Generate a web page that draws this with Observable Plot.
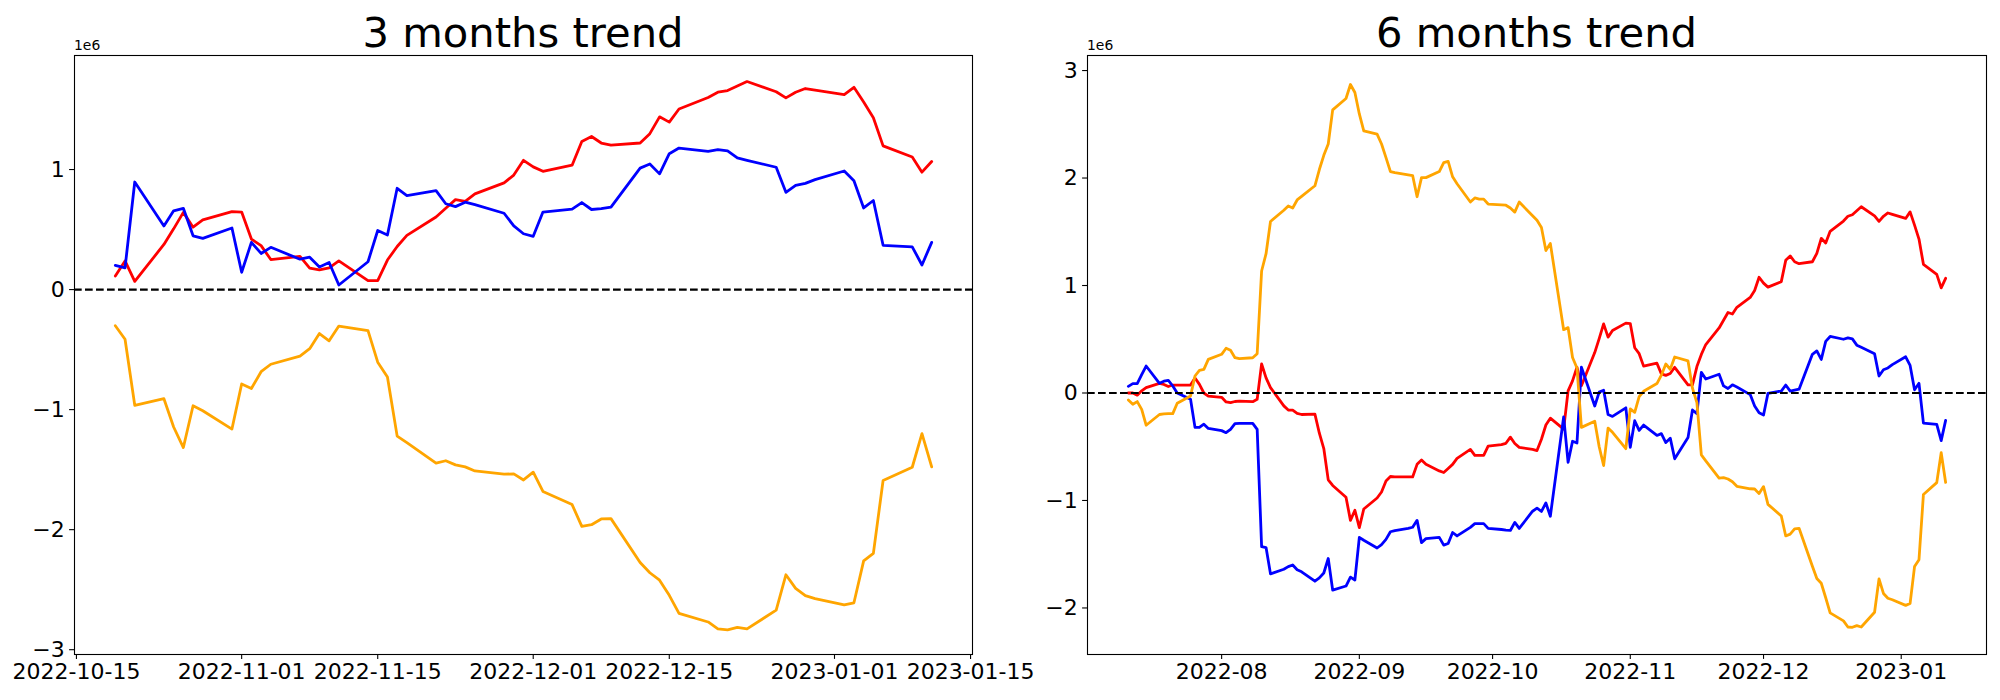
<!DOCTYPE html>
<html>
<head>
<meta charset="utf-8">
<script src="https://cdn.jsdelivr.net/npm/d3@7"></script>
<script src="https://cdn.jsdelivr.net/npm/@observablehq/plot@0.6"></script>
<style>
  body { margin: 0; background: #fff; }
  #fig { position: relative; width: 2000px; height: 700px; font-family: "DejaVu Sans", sans-serif; color: #000; background: #fff; }
  .panel { position: absolute; top: 0; }
  .title { position: absolute; font-size: 41.7px; line-height: 1; white-space: nowrap; transform: translateX(-50%); }
  .offset { position: absolute; font-size: 13.9px; line-height: 1; white-space: nowrap; }
</style>
</head>
<body>
<div id="fig"></div>
<script>
// ---------- 3 months panel (values in units of 1e6) ----------
const threeDates = [
  "2022-10-19","2022-10-20","2022-10-21","2022-10-24","2022-10-25","2022-10-26","2022-10-27","2022-10-28","2022-10-31",
  "2022-11-01","2022-11-02","2022-11-03","2022-11-04","2022-11-07","2022-11-08","2022-11-09","2022-11-10","2022-11-11",
  "2022-11-14","2022-11-15","2022-11-16","2022-11-17","2022-11-18","2022-11-21","2022-11-22","2022-11-23","2022-11-24",
  "2022-11-25","2022-11-28","2022-11-29","2022-11-30",
  "2022-12-01","2022-12-02","2022-12-05","2022-12-06","2022-12-07","2022-12-08","2022-12-09","2022-12-12","2022-12-13",
  "2022-12-14","2022-12-15","2022-12-16","2022-12-19","2022-12-20","2022-12-21","2022-12-22","2022-12-23","2022-12-26",
  "2022-12-27","2022-12-28","2022-12-29","2022-12-30",
  "2023-01-02","2023-01-03","2023-01-04","2023-01-05","2023-01-06","2023-01-09","2023-01-10","2023-01-11"
];
const threeRed = [
  0.113, 0.239, 0.068, 0.376, 0.506, 0.643, 0.520, 0.581, 0.650,
  0.646, 0.421, 0.366, 0.250, 0.277, 0.178, 0.164, 0.181, 0.239, 0.075, 0.075, 0.246, 0.359, 0.451, 0.605, 0.677, 0.749, 0.735, 0.797, 0.889, 0.954, 1.077,
  1.022, 0.985, 1.036, 1.234, 1.275, 1.221, 1.203, 1.221, 1.299, 1.439, 1.395, 1.504, 1.600, 1.644, 1.658, 1.696, 1.733, 1.648, 1.597, 1.644, 1.675, 1.662,
  1.624, 1.685, 1.562, 1.432, 1.197, 1.104, 0.978, 1.067
];
const threeBlue = [
  0.202, 0.181, 0.896, 0.530, 0.656, 0.677, 0.448, 0.427, 0.513,
  0.144, 0.393, 0.301, 0.352, 0.253, 0.270, 0.188, 0.226, 0.038, 0.232, 0.492, 0.455, 0.844, 0.783, 0.824, 0.715, 0.691, 0.728, 0.708, 0.636, 0.530, 0.465,
  0.444, 0.646, 0.670, 0.725, 0.667, 0.674, 0.687, 1.012, 1.046, 0.964, 1.132, 1.179, 1.152, 1.166, 1.156, 1.097, 1.077, 1.019, 0.810, 0.868, 0.885, 0.916,
  0.988, 0.906, 0.680, 0.742, 0.369, 0.356, 0.205, 0.393
];
const threeOrange = [
  -0.301, -0.414, -0.964, -0.909, -1.145, -1.316, -0.968, -1.009, -1.162,
  -0.786, -0.824, -0.684, -0.622, -0.554, -0.492, -0.366, -0.427, -0.304, -0.342, -0.605, -0.728, -1.221, -1.275, -1.446, -1.426, -1.460, -1.477, -1.511, -1.538, -1.535, -1.586,
  -1.521, -1.682, -1.791, -1.973, -1.959, -1.911, -1.908, -2.274, -2.359, -2.421, -2.547, -2.697, -2.769, -2.827, -2.834, -2.814, -2.827, -2.670, -2.376, -2.489, -2.550, -2.574,
  -2.626, -2.609, -2.260, -2.198, -1.590, -1.480, -1.200, -1.477
];
const threeXTicks = ["2022-10-15","2022-11-01","2022-11-15","2022-12-01","2022-12-15","2023-01-01","2023-01-15"];
const threeYTicks = [-3, -2, -1, 0, 1];

// ---------- 6 months panel (values in units of 1e6) ----------
const sixDates = [
  "2022-07-11","2022-07-12","2022-07-13","2022-07-14","2022-07-15","2022-07-18","2022-07-19","2022-07-20","2022-07-21","2022-07-22",
  "2022-07-25","2022-07-26","2022-07-27","2022-07-28","2022-07-29",
  "2022-08-01","2022-08-02","2022-08-03","2022-08-04","2022-08-05","2022-08-08","2022-08-09","2022-08-10","2022-08-11","2022-08-12",
  "2022-08-15","2022-08-16","2022-08-17","2022-08-18","2022-08-19","2022-08-22","2022-08-23","2022-08-24","2022-08-25","2022-08-26",
  "2022-08-29","2022-08-30","2022-08-31",
  "2022-09-01","2022-09-02","2022-09-05","2022-09-06","2022-09-07","2022-09-08","2022-09-09","2022-09-12","2022-09-13","2022-09-14",
  "2022-09-15","2022-09-16","2022-09-19","2022-09-20","2022-09-21","2022-09-22","2022-09-23","2022-09-26","2022-09-27","2022-09-28",
  "2022-09-29","2022-09-30",
  "2022-10-03","2022-10-04","2022-10-05","2022-10-06","2022-10-07","2022-10-10","2022-10-11","2022-10-12","2022-10-13","2022-10-14",
  "2022-10-17","2022-10-18","2022-10-19","2022-10-20","2022-10-21","2022-10-24","2022-10-25","2022-10-26","2022-10-27","2022-10-28",
  "2022-10-31",
  "2022-11-01","2022-11-02","2022-11-03","2022-11-04","2022-11-07","2022-11-08","2022-11-09","2022-11-10","2022-11-11","2022-11-14",
  "2022-11-15","2022-11-16","2022-11-17","2022-11-18","2022-11-21","2022-11-22","2022-11-23","2022-11-24","2022-11-25","2022-11-28",
  "2022-11-29","2022-11-30",
  "2022-12-01","2022-12-02","2022-12-05","2022-12-06","2022-12-07","2022-12-08","2022-12-09","2022-12-12","2022-12-13","2022-12-14",
  "2022-12-15","2022-12-16","2022-12-19","2022-12-20","2022-12-21","2022-12-22","2022-12-23","2022-12-26","2022-12-27","2022-12-28",
  "2022-12-29","2022-12-30",
  "2023-01-02","2023-01-03","2023-01-04","2023-01-05","2023-01-06","2023-01-09","2023-01-10","2023-01-11"
];
const sixRed = [
  0.000, 0.000, -0.020, 0.020, 0.050, 0.090, 0.080, 0.060, 0.074, 0.074, 0.074, 0.140, 0.080, 0.000, -0.030,
  -0.040, -0.083, -0.090, -0.079, -0.075, -0.081, -0.059, 0.270, 0.140, 0.050, -0.120, -0.158, -0.160, -0.190, -0.200, -0.196, -0.374, -0.517, -0.808, -0.860, -0.970, -1.185, -1.091,
  -1.253, -1.079, -0.977, -0.921, -0.819, -0.777, -0.780, -0.780, -0.781, -0.664, -0.623, -0.664, -0.725, -0.740, -0.702, -0.664, -0.608, -0.525, -0.581, -0.580, -0.581, -0.494,
  -0.480, -0.468, -0.411, -0.470, -0.506, -0.525, -0.536, -0.430, -0.298, -0.234, -0.336, 0.020, 0.113, 0.239, 0.068, 0.376, 0.506, 0.643, 0.520, 0.581, 0.650,
  0.646, 0.421, 0.366, 0.250, 0.277, 0.178, 0.164, 0.181, 0.239, 0.075, 0.075, 0.246, 0.359, 0.451, 0.605, 0.677, 0.749, 0.735, 0.797, 0.889, 0.954, 1.077,
  1.022, 0.985, 1.036, 1.234, 1.275, 1.221, 1.203, 1.221, 1.299, 1.439, 1.395, 1.504, 1.600, 1.644, 1.658, 1.696, 1.733, 1.648, 1.597, 1.644, 1.675, 1.662,
  1.624, 1.685, 1.562, 1.432, 1.197, 1.104, 0.978, 1.067
];
const sixBlue = [
  0.062, 0.087, 0.087, 0.170, 0.251, 0.090, 0.110, 0.118, 0.065, 0.000, -0.059, -0.320, -0.320, -0.290, -0.330,
  -0.350, -0.369, -0.338, -0.285, -0.283, -0.282, -0.338, -1.430, -1.438, -1.683, -1.640, -1.615, -1.600, -1.645, -1.664, -1.751, -1.720, -1.675, -1.540, -1.834, -1.796, -1.713, -1.740,
  -1.343, -1.370, -1.442, -1.410, -1.362, -1.291, -1.280, -1.260, -1.249, -1.185, -1.392, -1.355, -1.343, -1.415, -1.400, -1.298, -1.330, -1.250, -1.215, -1.215, -1.215, -1.260,
  -1.270, -1.275, -1.279, -1.204, -1.260, -1.100, -1.072, -1.102, -1.023, -1.147, -0.223, -0.645, -0.449, -0.465, 0.240, -0.121, 0.008, 0.025, -0.200, -0.218, -0.138,
  -0.506, -0.258, -0.348, -0.298, -0.395, -0.378, -0.461, -0.420, -0.612, -0.415, -0.158, -0.192, 0.192, 0.130, 0.174, 0.066, 0.042, 0.076, 0.056, -0.015, -0.120, -0.184,
  -0.205, -0.003, 0.018, 0.074, 0.017, 0.026, 0.035, 0.360, 0.392, 0.312, 0.480, 0.526, 0.500, 0.513, 0.504, 0.445, 0.425, 0.366, 0.158, 0.216, 0.233, 0.264,
  0.337, 0.256, 0.030, 0.090, -0.280, -0.292, -0.443, -0.255
];
const sixOrange = [
  -0.065, -0.105, -0.080, -0.152, -0.300, -0.200, -0.195, -0.192, -0.192, -0.096, -0.028, 0.158, 0.211, 0.220, 0.313,
  0.360, 0.416, 0.397, 0.328, 0.319, 0.328, 0.366, 1.135, 1.296, 1.596, 1.700, 1.740, 1.721, 1.796, 1.830, 1.928, 2.079, 2.211, 2.317, 2.634, 2.740, 2.870, 2.796,
  2.596, 2.438, 2.408, 2.317, 2.190, 2.060, 2.050, 2.030, 2.023, 1.826, 2.004, 2.004, 2.060, 2.143, 2.155, 2.011, 1.947, 1.777, 1.815, 1.804, 1.804, 1.758,
  1.750, 1.747, 1.721, 1.683, 1.777, 1.650, 1.608, 1.540, 1.325, 1.392, 0.589, 0.608, 0.330, 0.233, -0.320, -0.263, -0.500, -0.675, -0.327, -0.366, -0.518,
  -0.147, -0.180, -0.034, 0.016, 0.088, 0.166, 0.270, 0.221, 0.335, 0.298, 0.045, -0.090, -0.576, -0.632, -0.792, -0.788, -0.800, -0.826, -0.868, -0.891, -0.893, -0.936,
  -0.871, -1.036, -1.144, -1.330, -1.313, -1.264, -1.259, -1.612, -1.726, -1.770, -1.905, -2.046, -2.120, -2.177, -2.180, -2.164, -2.177, -2.040, -1.729, -1.865, -1.910, -1.924,
  -1.976, -1.958, -1.615, -1.551, -0.944, -0.834, -0.556, -0.832
];
const sixXTicks = ["2022-08-01","2022-09-01","2022-10-01","2022-11-01","2022-12-01","2023-01-01"];
const sixYTicks = [-2, -1, 0, 1, 2, 3];

const titles = ["3 months trend", "6 months trend"];
const offsetLabel = "1e6";
const seriesColors = ["#ff0000", "#0000ff", "#ffa500"];

// ---------- drawing ----------
function rows(dates, values) {
  return dates.map((d, i) => ({date: new Date(d + "T00:00:00Z"), value: values[i]}));
}

function makePanel(cfg) {
  const series = [cfg.red, cfg.blue, cfg.orange];
  const lines = series.map((vals, k) =>
    Plot.lineY(rows(cfg.dates, vals), {x: "date", y: "value", stroke: seriesColors[k], strokeWidth: 2.8, strokeLinejoin: "round"})
  );
  return Plot.plot({
    width: cfg.width,
    height: 700,
    marginLeft: cfg.marginLeft,
    marginRight: cfg.marginRight,
    marginTop: 55,
    marginBottom: 46,
    style: {fontFamily: "DejaVu Sans", fontSize: "22px", color: "#000", background: "transparent", overflow: "visible"},
    x: {type: "utc", domain: cfg.xDomain},
    y: {domain: cfg.yDomain},
    marks: [
      ...lines,
      Plot.ruleY([0], {stroke: "#000", strokeWidth: 2.1, strokeDasharray: "7.7,3.3"}),
      Plot.frame({stroke: "#000", strokeWidth: 1.1}),
      Plot.axisX({ticks: cfg.xTicks.map(d => new Date(d + "T00:00:00Z")), tickFormat: d3.utcFormat(cfg.xFormat),
                  tickSize: 4.9, tickPadding: 3.5, fontSize: 22, strokeWidth: 1.1, label: null}),
      Plot.axisY({ticks: cfg.yTicks, tickFormat: d3.format("d"), tickSize: 4.9, tickPadding: 4.9,
                  fontSize: 22, strokeWidth: 1.1, label: null})
    ]
  });
}

const fig = document.getElementById("fig");

const panels = [
  {left: 0, width: 1000, marginLeft: 74, marginRight: 28,
   dates: threeDates, red: threeRed, blue: threeBlue, orange: threeOrange,
   xDomain: [new Date("2022-10-14T19:12:00Z"), new Date("2023-01-15T04:48:00Z")],
   yDomain: [-3.04, 1.95], xTicks: threeXTicks, yTicks: threeYTicks, xFormat: "%Y-%m-%d"},
  {left: 1000, width: 1000, marginLeft: 87, marginRight: 14,
   dates: sixDates, red: sixRed, blue: sixBlue, orange: sixOrange,
   xDomain: [new Date("2022-07-01T19:12:00Z"), new Date("2023-01-20T04:48:00Z")],
   yDomain: [-2.433, 3.14], xTicks: sixXTicks, yTicks: sixYTicks, xFormat: "%Y-%m"}
];

// draw the right panel first so the left panel's last tick label can overhang on top of it
[...panels].reverse().forEach((cfg) => {
  const wrap = document.createElement("div");
  wrap.className = "panel";
  wrap.style.left = cfg.left + "px";
  wrap.appendChild(makePanel(cfg));
  fig.appendChild(wrap);
});

panels.forEach((cfg, i) => {
  const frameLeft = cfg.left + cfg.marginLeft;
  const frameRight = cfg.left + cfg.width - cfg.marginRight;

  const t = document.createElement("div");
  t.className = "title";
  t.textContent = titles[i];
  t.style.left = ((frameLeft + frameRight) / 2) + "px";
  t.style.top = "11.7px";
  fig.appendChild(t);

  const o = document.createElement("div");
  o.className = "offset";
  o.textContent = offsetLabel;
  o.style.left = frameLeft + "px";
  o.style.top = "39.2px";
  fig.appendChild(o);
});
</script>
</body>
</html>
